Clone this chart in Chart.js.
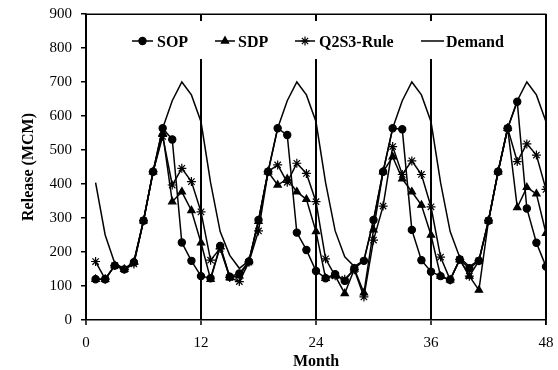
<!DOCTYPE html>
<html>
<head>
<meta charset="utf-8">
<script src="https://cdn.jsdelivr.net/npm/chart.js@4/dist/chart.umd.min.js"></script>
<style>
  html, body { margin: 0; padding: 0; background: #fff; }
  #wrap { width: 558px; height: 370px; }
</style>
</head>
<body>
<div id="wrap"><canvas id="c" width="558" height="370"></canvas></div>
<script>
const months = [1,2,3,4,5,6,7,8,9,10,11,12,13,14,15,16,17,18,19,20,21,22,23,24,
                25,26,27,28,29,30,31,32,33,34,35,36,37,38,39,40,41,42,43,44,45,46,47,48];
const sop = [120,120,160,149,170,292,436,564,531,228,174,129,
             123,218,127,137,172,294,436,564,544,257,206,144,
             123,135,115,152,174,294,436,564,561,265,176,142,
             129,118,178,152,174,292,436,564,642,328,227,157];
const sdp = [120,120,160,149,170,292,436,549,348,377,322,227,
             120,215,125,130,172,290,436,397,415,377,355,260,
             123,130,78,150,80,265,436,480,415,377,338,250,
             129,118,178,129,88,292,436,564,331,390,371,255];
const q2s3 = [172,120,160,149,165,292,436,540,397,446,407,318,
              176,210,125,113,170,262,436,456,405,461,431,348,
              180,130,120,148,68,235,335,510,428,468,428,333,
              185,118,178,129,174,292,436,564,466,518,485,384];
const demand = [404,250,167,150,172,292,436,564,645,700,662,583,
                404,260,190,152,174,292,436,564,645,700,662,583,
                404,262,186,157,176,292,436,564,645,700,662,583,
                404,260,184,157,176,292,436,564,645,700,662,583];
const seriesNames = ['SOP', 'SDP', 'Q2S3-Rule', 'Demand'];
const xTicks = [0, 12, 24, 36, 48];
const yTicks = [0, 100, 200, 300, 400, 500, 600, 700, 800, 900];

const toXY = arr => months.map((m, i) => ({ x: m, y: arr[i] }));
const FONT = "'Liberation Serif', 'Times New Roman', serif";

function drawFrame(chart) {
  const ctx = chart.ctx;
  const a = chart.chartArea;
  ctx.save();
  ctx.setLineDash([]);
  ctx.globalAlpha = 1;
  ctx.strokeStyle = '#000000';
  ctx.lineWidth = 1.5;
  ctx.beginPath();
  ctx.moveTo(Math.round(a.left), Math.round(a.top) + 0.25);
  ctx.lineTo(Math.round(a.right) - 0.25, Math.round(a.top) + 0.25);
  ctx.lineTo(Math.round(a.right) - 0.25, Math.round(a.bottom) + 5);
  ctx.stroke();
  ctx.restore();
}

const framePlugin = {
  id: 'frameAndLegend',
  beforeDatasetsDraw(chart) {
    const ctx = chart.ctx;
    ctx.save();
    ctx.setLineDash([]);
    // legend background (hides vertical lines)
    ctx.fillStyle = '#fff';
    ctx.fillRect(122, 21, 396, 38);
    const y = 41;
    const items = [
      { label: seriesNames[0], style: 'circle', r: 3.6, x0: 132, x1: 153, tx: 157 },
      { label: seriesNames[1], style: 'triangle', r: 4.2, x0: 215, x1: 235, tx: 238 },
      { label: seriesNames[2], style: 'star', r: 4.5, x0: 295, x1: 315, tx: 319 },
      { label: seriesNames[3], style: null, r: 0, x0: 421, x1: 444, tx: 446 }
    ];
    items.forEach(it => {
      ctx.strokeStyle = '#000';
      ctx.lineWidth = 1.5;
      ctx.beginPath();
      ctx.moveTo(it.x0, y);
      ctx.lineTo(it.x1, y);
      ctx.stroke();
      if (it.style) {
        ctx.fillStyle = '#000';
        ctx.strokeStyle = '#000';
        ctx.lineWidth = 1.2;
        Chart.helpers.drawPoint(ctx, { pointStyle: it.style, radius: it.r, rotation: 0, borderWidth: 1.2 }, (it.x0 + it.x1) / 2, y);
      }
      ctx.fillStyle = '#000';
      ctx.font = 'bold 16px ' + FONT;
      ctx.textBaseline = 'alphabetic';
      ctx.textAlign = 'left';
      ctx.fillText(it.label, it.tx, 46.5);
    });
    ctx.restore();
  },
  afterDraw(chart) {
    drawFrame(chart);
  }
};

const zeroPad = s => { s.paddingTop = 0; s.paddingBottom = 0; s.paddingLeft = 0; s.paddingRight = 0; };

const common = { borderColor: '#000', backgroundColor: '#000', borderWidth: 1.5, tension: 0,
                 pointBorderColor: '#000', pointBackgroundColor: '#000', pointBorderWidth: 1.2 };

new Chart(document.getElementById('c'), {
  type: 'line',
  data: {
    datasets: [
      Object.assign({ label: seriesNames[0], data: toXY(sop), pointStyle: 'circle', pointRadius: 3.6 }, common),
      Object.assign({ label: seriesNames[1], data: toXY(sdp), pointStyle: 'triangle', pointRadius: 4.2 }, common),
      Object.assign({ label: seriesNames[2], data: toXY(q2s3), pointStyle: 'star', pointRadius: 4.5 }, common),
      Object.assign({ label: seriesNames[3], data: toXY(demand), pointRadius: 0 }, common)
    ]
  },
  options: {
    responsive: false,
    animation: false,
    events: [],
    layout: { padding: { left: 0, right: 12, top: 14, bottom: 0 } },
    plugins: { legend: { display: false }, tooltip: { enabled: false } },
    scales: {
      x: {
        type: 'linear',
        min: xTicks[0], max: xTicks[xTicks.length - 1],
        afterFit: s => { s.height = 50; zeroPad(s); },
        afterBuildTicks: s => { s.ticks = xTicks.map(v => ({ value: v })); },
        ticks: { color: '#000', font: { family: FONT, size: 15 }, padding: 9, maxRotation: 0, autoSkip: false },
        grid: {
          color: '#000', lineWidth: 2, tickLength: 5, tickColor: '#000', tickWidth: 1.5,
          drawOnChartArea: true
        },
        border: { display: true, color: '#000', width: 1.5 },
        title: { display: true, text: 'Month', color: '#000', font: { family: FONT, size: 16, weight: 'bold', lineHeight: 1 }, padding: { top: 0, bottom: 0 } }
      },
      y: {
        min: yTicks[0], max: yTicks[yTicks.length - 1],
        afterFit: s => { s.width = 86; zeroPad(s); },
        afterBuildTicks: s => { s.ticks = yTicks.map(v => ({ value: v })); },
        ticks: { color: '#000', font: { family: FONT, size: 15 }, padding: 9, autoSkip: false },
        grid: {
          color: 'rgba(0,0,0,0)',
          lineWidth: 1.5, tickLength: 5, tickColor: '#000', tickWidth: 1.5
        },
        border: { display: true, color: '#000', width: 1.5 },
        title: { display: true, text: 'Release (MCM)', color: '#000', font: { family: FONT, size: 16, weight: 'bold', lineHeight: 1 }, padding: { top: 21, bottom: 0 } }
      }
    }
  },
  plugins: [framePlugin]
});
</script>
</body>
</html>
